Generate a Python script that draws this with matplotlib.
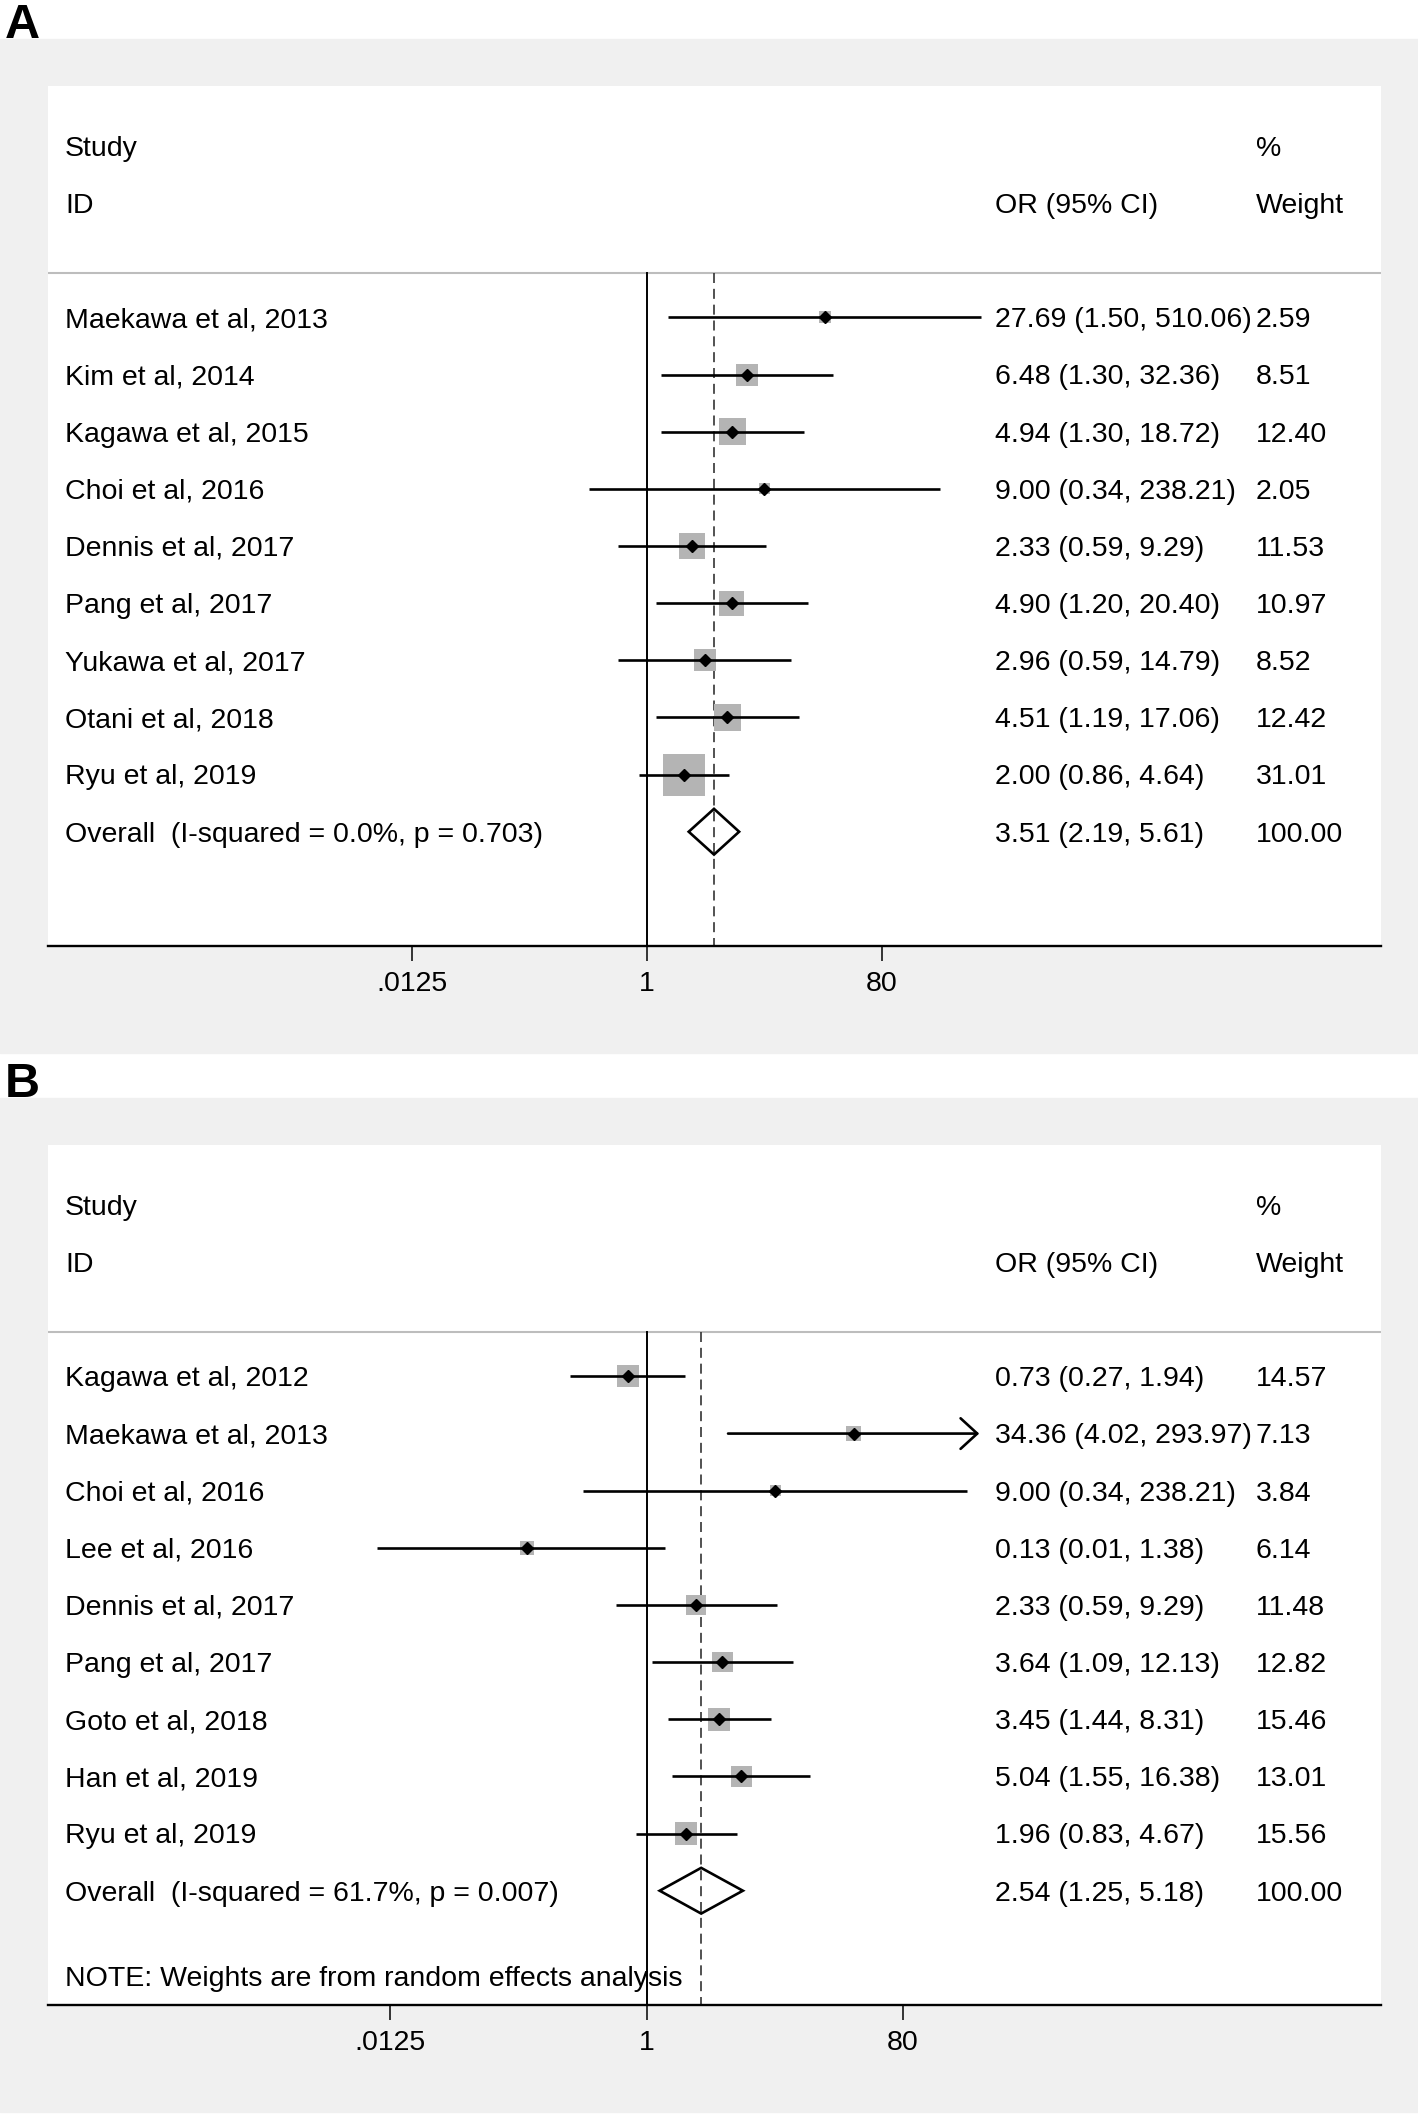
import matplotlib
matplotlib.use('Agg')
import matplotlib.pyplot as plt
from matplotlib.patches import Rectangle, Polygon
import numpy as np

plt.rcParams['font.family'] = ['Liberation Sans', 'DejaVu Sans']

# Panel A
studies_a = ['Maekawa et al, 2013', 'Kim et al, 2014', 'Kagawa et al, 2015',
             'Choi et al, 2016', 'Dennis et al, 2017', 'Pang et al, 2017',
             'Yukawa et al, 2017', 'Otani et al, 2018', 'Ryu et al, 2019']
or_a = [27.69, 6.48, 4.94, 9.00, 2.33, 4.90, 2.96, 4.51, 2.00]
lo_a = [1.50, 1.30, 1.30, 0.34, 0.59, 1.20, 0.59, 1.19, 0.86]
hi_a = [510.06, 32.36, 18.72, 238.21, 9.29, 20.40, 14.79, 17.06, 4.64]
wt_a = [2.59, 8.51, 12.40, 2.05, 11.53, 10.97, 8.52, 12.42, 31.01]
overall_a = [3.51, 2.19, 5.61]
het_a = 'Overall  (I-squared = 0.0%, p = 0.703)'

# Panel B
studies_b = ['Kagawa et al, 2012', 'Maekawa et al, 2013', 'Choi et al, 2016',
             'Lee et al, 2016', 'Dennis et al, 2017', 'Pang et al, 2017',
             'Goto et al, 2018', 'Han et al, 2019', 'Ryu et al, 2019']
or_b = [0.73, 34.36, 9.00, 0.13, 2.33, 3.64, 3.45, 5.04, 1.96]
lo_b = [0.27, 4.02, 0.34, 0.01, 0.59, 1.09, 1.44, 1.55, 0.83]
hi_b = [1.94, 293.97, 238.21, 1.38, 9.29, 12.13, 8.31, 16.38, 4.67]
wt_b = [14.57, 7.13, 3.84, 6.14, 11.48, 12.82, 15.46, 13.01, 15.56]
overall_b = [2.54, 1.25, 5.18]
het_b = 'Overall  (I-squared = 61.7%, p = 0.007)'
note_b = 'NOTE: Weights are from random effects analysis'
arrow_b = [False, True, False, False, False, False, False, False, False]

xticks = [0.0125, 1, 80]
xticklabels = ['.0125', '1', '80']

W, H = 1418, 2114
fig = plt.figure(figsize=(W / 100, H / 100), dpi=100)
fig.patch.set_facecolor('white')

FS = 20.5
BOX = '#b4b4b4'
X_ID, X_OR, X_WT = 0.0128, 0.7104, 0.9062
DY = 0.05  # small downward nudge for text rows


def fx(x):
    return x / W


def fy(y):
    return 1 - y / H


def panel(top, label, studies, est, lo, hi, wt, overall, het, lnlim, kbox,
          note=None, arrows=None):
    # gray background and panel letter
    bg = Rectangle((0, fy(top + 1014)), 1, 1014 / H,
                   transform=fig.transFigure, color='#f0f0f0', zorder=-5)
    fig.patches.append(bg)
    fig.text(fx(5), fy(top - 1), label, fontsize=35, fontweight='bold',
             va='baseline', ha='left')
    ax = fig.add_axes([fx(48), fy(top + 907), fx(1333), 860 / H])
    ax.set_zorder(1)
    ax.set_facecolor('white')
    ax.set_xscale('log')
    ax.set_xlim(np.exp(lnlim[0]), np.exp(lnlim[1]))
    ax.set_ylim(11.0, -4.05)
    for s in ['top', 'left', 'right']:
        ax.spines[s].set_visible(False)
    ax.spines['bottom'].set_linewidth(1.7)
    ax.set_yticks([])
    ax.set_xticks(xticks)
    ax.set_xticklabels(xticklabels)
    ax.xaxis.set_minor_locator(plt.NullLocator())
    ax.tick_params(axis='x', direction='out', length=11, width=1.1,
                   labelsize=FS, pad=7)

    tr = ax.get_yaxis_transform()
    hdr = -0.78
    ax.axhline(hdr, color='#bdbdbd', lw=1.5)
    ax.text(X_ID, -3 + DY, 'Study', transform=tr, fontsize=FS, va='center')
    ax.text(X_ID, -2 + DY, 'ID', transform=tr, fontsize=FS, va='center')
    ax.text(X_OR, -2 + DY, 'OR (95% CI)', transform=tr, fontsize=FS, va='center')
    ax.text(X_WT, -3 + DY, '%', transform=tr, fontsize=FS, va='center')
    ax.text(X_WT, -2 + DY, 'Weight', transform=tr, fontsize=FS, va='center')

    ax.plot([1, 1], [hdr, 11.0], color='black', lw=1.4, zorder=2)
    ax.plot([overall[0], overall[0]], [hdr, 11.0], color='#333333', lw=1.2,
            ls=(0, (6, 3.5)), zorder=2)

    ys = np.arange(len(studies))
    sizes = [(kbox * np.sqrt(w) * 0.72) ** 2 for w in wt]
    ax.scatter(est, ys, s=sizes, marker='s', color=BOX, lw=0, zorder=3)
    for i in range(len(studies)):
        if arrows is not None and arrows[i]:
            ax.annotate('', xy=(hi[i], ys[i]), xytext=(lo[i], ys[i]),
                        arrowprops=dict(arrowstyle='->,head_length=0.6,head_width=0.55',
                                        lw=1.9, color='black', shrinkA=0,
                                        shrinkB=0, mutation_scale=20),
                        zorder=4)
        else:
            ax.plot([lo[i], hi[i]], [ys[i], ys[i]], color='black', lw=1.9,
                    solid_capstyle='butt', zorder=4)
        ax.text(X_ID, ys[i] + DY, studies[i], transform=tr, fontsize=FS,
                va='center')
        ax.text(X_OR, ys[i] + DY, f'{est[i]:.2f} ({lo[i]:.2f}, {hi[i]:.2f})',
                transform=tr, fontsize=FS, va='center')
        ax.text(X_WT, ys[i] + DY, f'{wt[i]:.2f}', transform=tr, fontsize=FS,
                va='center')
    ax.plot(est, ys, 'D', color='black', ms=6, zorder=5)

    yo = len(studies)
    dh = 0.40
    dia = Polygon([(overall[1], yo), (overall[0], yo - dh), (overall[2], yo),
                   (overall[0], yo + dh)], closed=True, facecolor='none',
                  edgecolor='black', lw=1.9, zorder=5)
    ax.add_patch(dia)
    ax.text(X_ID, yo + DY, het, transform=tr, fontsize=FS, va='center')
    ax.text(X_OR, yo + DY,
            f'{overall[0]:.2f} ({overall[1]:.2f}, {overall[2]:.2f})',
            transform=tr, fontsize=FS, va='center')
    ax.text(X_WT, yo + DY, '100.00', transform=tr, fontsize=FS, va='center')
    if note:
        ax.text(X_ID, 10.5 + DY, note, transform=tr, fontsize=FS, va='center')
    return ax


panel(39, 'A', studies_a, or_a, lo_a, hi_a, wt_a, overall_a, het_a,
      (-11.17, 13.70), 7.54)
panel(1098, 'B', studies_b, or_b, lo_b, hi_b, wt_b, overall_b, het_b,
      (-10.23, 12.55), 5.76, note=note_b, arrows=arrow_b)

fig.savefig('out.png', dpi=100, facecolor='white')
